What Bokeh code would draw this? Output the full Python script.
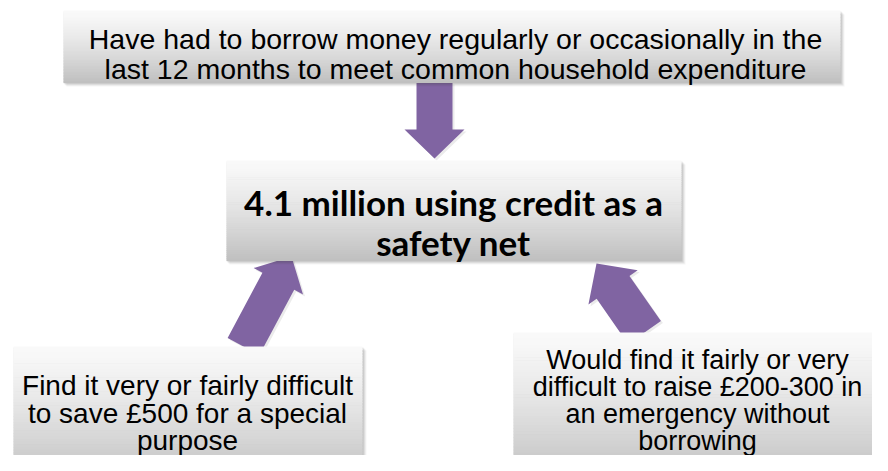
import numpy as np
from bokeh.plotting import figure
from bokeh.models import Range1d
from bokeh.core.properties import value
from bokeh.embed import file_html
from bokeh.resources import INLINE

# ---- content ----
top_lines = ["Have had to borrow money regularly or occasionally in the",
             "last 12 months to meet common household expenditure"]
center_lines = ["4.1 million using credit as a", "safety net"]
left_lines = ["Find it very or fairly difficult", "to save £500 for a special", "purpose"]
right_lines = ["Would find it fairly or very", "difficult to raise £200-300 in",
               "an emergency without", "borrowing"]

# ---- layout (picture pixel coordinates) ----
W, H = 872, 455
p = figure(width=W, height=H, output_backend="svg", toolbar_location=None,
           x_range=Range1d(0, W), y_range=Range1d(H, 0),
           min_border=0, background_fill_color="white", border_fill_color="white")
p.axis.visible = False
p.grid.visible = False
p.outline_line_color = None

PURPLE = "#8064A2"


def box(x0, x1, y0, y1, n=48):
    # drop shadow
    for k, a in [(4, 0.05), (3, 0.08), (2, 0.10), (1, 0.12)]:
        p.quad(left=[x0 + k - 1], right=[x1 + k], top=[y0 + k], bottom=[y1 + k],
               fill_color="#404040", fill_alpha=a, line_color=None)
    edges = np.linspace(y0, y1, n + 1)
    t = (np.arange(n) + 0.5) / n
    g = 250 - (250 - 192) * t ** 1.3
    cols = ["#%02x%02x%02x" % (int(v), int(v), int(v)) for v in g]
    p.quad(left=[x0] * n, right=[x1] * n, top=list(edges[:-1]), bottom=list(edges[1:] + 0.6),
           fill_color=cols, line_color=None)


def arrow(tail, tip, sw, hw, hl):
    tail = np.array(tail, float)
    tip = np.array(tip, float)
    d = tip - tail
    L = np.hypot(*d)
    u = d / L
    n = np.array([-u[1], u[0]])
    base = tip - u * hl
    pts = [tail + n * sw, base + n * sw, base + n * hw, tip,
           base - n * hw, base - n * sw, tail - n * sw]
    xs = [q[0] for q in pts]
    ys = [q[1] for q in pts]
    p.patch([x + 2 for x in xs], [y + 2 for y in ys], fill_color="#000000",
            fill_alpha=0.08, line_color=None)
    p.patch(xs, ys, fill_color=PURPLE, line_color=None)


def lines(txts, cx, baselines, size, font, style="normal"):
    p.text(x=[cx] * len(txts), y=baselines, text=txts, text_align="center",
           text_baseline="alphabetic", text_font_size=size, text_font=value(font),
           text_font_style=style, text_color="#000000")


# arrows first (boxes drawn over their tails)
arrow((434, 82), (434, 158), 18, 30, 29)
arrow((243, 346), (291, 256), 18, 28, 28)
arrow((644, 332), (596, 263), 20, 30, 29)

box(63, 840, 10, 82)
box(226, 681, 160, 260)
box(13, 362, 346, 480)
box(513, 900, 332, 480)

lines(top_lines, 455, [38, 68], "28.5px", "Liberation Sans")
lines(center_lines, 453, [201, 241], "35px", "Lato", "bold")
lines(left_lines, 187, [385, 413, 440], "28px", "Liberation Sans")
lines(right_lines, 697, [359, 386, 413, 440], "27px", "Liberation Sans")

open("out.html", "w").write(file_html(p, INLINE))
